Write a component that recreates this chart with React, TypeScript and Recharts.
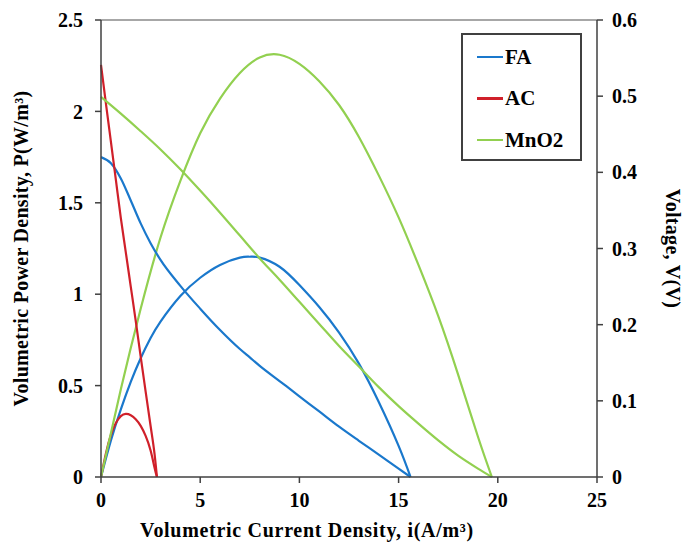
import { LineChart, Line, XAxis, YAxis, Legend, ReferenceLine } from 'recharts';

// values
const faCurrent = [0, 0.5, 1, 1.5, 2, 2.5, 3, 4, 5, 6, 7, 7.5, 8, 9, 10, 11, 12, 13, 14, 15, 15.6];
const faPower = [0, 0.2, 0.37, 0.52, 0.65, 0.76, 0.85, 0.99, 1.09, 1.16, 1.2, 1.205, 1.2, 1.15, 1.05, 0.93, 0.79, 0.62, 0.41, 0.17, 0];
const faVoltage = [0.42, 0.412, 0.392, 0.363, 0.333, 0.307, 0.285, 0.251, 0.221, 0.193, 0.168, 0.157, 0.146, 0.126, 0.106, 0.086, 0.066, 0.0475, 0.0295, 0.011, 0];

const acCurrent = [0, 0.25, 0.5, 0.75, 1, 1.25, 1.5, 1.75, 2, 2.25, 2.5, 2.7, 2.82];
const acPower = [0, 0.13, 0.23, 0.295, 0.333, 0.345, 0.338, 0.316, 0.28, 0.225, 0.145, 0.05, 0];
const acVoltage = [0.541, 0.49, 0.44, 0.39, 0.34, 0.295, 0.25, 0.205, 0.158, 0.112, 0.067, 0.03, 0];

const mnCurrent = [0, 1, 2, 3, 4, 5, 6, 7, 8, 9, 10, 11, 12, 13, 14, 15, 16, 17, 18, 19, 19.7];
const mnPower = [0, 0.48, 0.92, 1.31, 1.62, 1.88, 2.07, 2.21, 2.295, 2.31, 2.26, 2.165, 2.035, 1.86, 1.65, 1.42, 1.16, 0.88, 0.56, 0.22, 0];
const mnVoltage = [0.499, 0.477, 0.454, 0.43, 0.404, 0.376, 0.347, 0.317, 0.287, 0.259, 0.23, 0.201, 0.172, 0.145, 0.118, 0.093, 0.07, 0.048, 0.028, 0.011, 0];

const seriesNames = ['FA', 'AC', 'MnO2'];
const seriesColors = ['#1a78cc', '#d0202a', '#92d050'];

const xTicks = [0, 5, 10, 15, 20, 25];
const powerTicks = [0, 0.5, 1, 1.5, 2, 2.5];
const voltageTicks = [0, 0.1, 0.2, 0.3, 0.4, 0.5, 0.6];

const toPoints = (xs: number[], ys: number[]) => xs.map((x, k) => ({ i: x, y: ys[k] }));

const FONT = '"Liberation Serif", "Times New Roman", serif';
const AXIS = '#404040';
const tickStyle = { fill: '#000', fontSize: 20, fontWeight: 700, fontFamily: FONT };
const labelStyle = { fill: '#000', fontSize: 20, fontWeight: 700, fontFamily: FONT, letterSpacing: 0.3 };

function LegendBox() {
  return (
    <div
      style={{
        width: 117,
        height: 124,
        border: '2px solid #404040',
        background: '#fff',
        fontFamily: FONT,
        fontWeight: 700,
        fontSize: 21,
        position: 'relative',
      }}
    >
      {seriesNames.map((name, k) => (
        <div
          key={name}
          style={{
            position: 'absolute',
            left: 14,
            top: 22 + k * 41.5 - 12,
            height: 24,
            display: 'flex',
            alignItems: 'center',
          }}
        >
          <span style={{ width: 26, height: 2.5, background: seriesColors[k], display: 'inline-block' }} />
          <span style={{ marginLeft: 2, color: '#000' }}>{name}</span>
        </div>
      ))}
    </div>
  );
}

export default function App() {
  const curves = [
    { power: toPoints(faCurrent, faPower), voltage: toPoints(faCurrent, faVoltage) },
    { power: toPoints(acCurrent, acPower), voltage: toPoints(acCurrent, acVoltage) },
    { power: toPoints(mnCurrent, mnPower), voltage: toPoints(mnCurrent, mnVoltage) },
  ];

  return (
    <div style={{ position: 'absolute', left: 0, top: 0, width: 688, height: 548, background: '#fff' }}>
      <LineChart width={688} height={548} margin={{ top: 20, right: 0, left: 0, bottom: 31 }}>
        <XAxis
          dataKey="i"
          type="number"
          domain={[0, 25]}
          ticks={xTicks}
          allowDuplicatedCategory={false}
          stroke={AXIS}
          strokeWidth={1.5}
          tick={tickStyle}
          tickSize={6}
          tickMargin={10}
          height={40}
          label={{
            value: 'Volumetric Current Density, i(A/m³)',
            position: 'center',
            dx: -42,
            dy: 33,
            style: { ...labelStyle, letterSpacing: 0.7 },
          }}
        />
        <YAxis
          yAxisId="left"
          domain={[0, 2.5]}
          ticks={powerTicks}
          stroke={AXIS}
          strokeWidth={1.5}
          tick={tickStyle}
          tickSize={6}
          tickMargin={12}
          width={101}
          label={{
            value: 'Volumetric Power Density, P(W/m³)',
            angle: -90,
            position: 'center',
            dx: -30,
            style: labelStyle,
          }}
        />
        <YAxis
          yAxisId="right"
          orientation="right"
          domain={[0, 0.6]}
          ticks={voltageTicks}
          stroke={AXIS}
          strokeWidth={1.5}
          tick={tickStyle}
          tickSize={6}
          tickMargin={9}
          width={91}
          label={{
            value: 'Voltage, V(V)',
            angle: 90,
            position: 'center',
            dx: 31,
            style: labelStyle,
          }}
        />
        <ReferenceLine yAxisId="left" y={2.5} stroke="#8a8a8a" strokeWidth={1.5} />
        <Legend
          layout="vertical"
          align="center"
          verticalAlign="middle"
          content={() => <LegendBox />}
          wrapperStyle={{ left: 461, top: 33, width: 'auto' }}
        />
        {curves.map((c, k) => (
          <Line
            key={`p-${seriesNames[k]}`}
            yAxisId="left"
            data={c.power}
            dataKey="y"
            name={seriesNames[k]}
            type="natural"
            stroke={seriesColors[k]}
            strokeWidth={2.2}
            dot={false}
            activeDot={false}
            isAnimationActive={false}
          />
        ))}
        {curves.map((c, k) => (
          <Line
            key={`v-${seriesNames[k]}`}
            yAxisId="right"
            data={c.voltage}
            dataKey="y"
            name={`${seriesNames[k]} voltage`}
            legendType="none"
            type="monotone"
            stroke={seriesColors[k]}
            strokeWidth={2.2}
            dot={false}
            activeDot={false}
            isAnimationActive={false}
          />
        ))}
      </LineChart>
    </div>
  );
}
